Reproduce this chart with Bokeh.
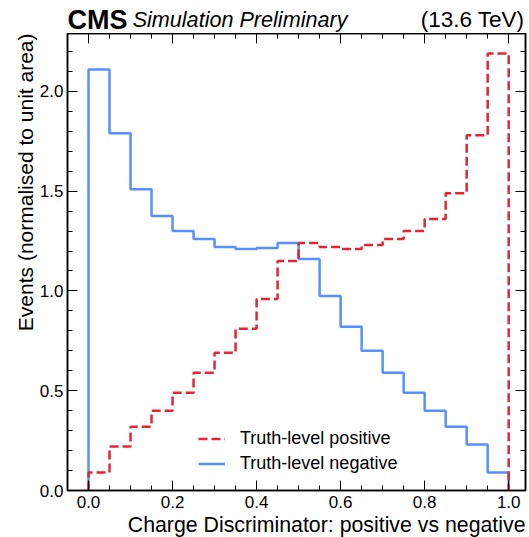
import numpy as np
from bokeh.plotting import figure
from bokeh.layouts import column
from bokeh.models import (Range1d, LinearAxis, FixedTicker, Label, Legend, LegendItem,
                          PrintfTickFormatter, CustomJSTickFormatter, Title)
from bokeh.embed import file_html
from bokeh.resources import INLINE

# ---- data -------------------------------------------------------------
bin_edges = [0.00, 0.05, 0.10, 0.15, 0.20, 0.25, 0.30, 0.35, 0.40, 0.45, 0.50,
             0.55, 0.60, 0.65, 0.70, 0.75, 0.80, 0.85, 0.90, 0.95, 1.00]
truth_positive = [0.09, 0.22, 0.32, 0.40, 0.49, 0.59, 0.69, 0.81, 0.96, 1.15,
                  1.24, 1.22, 1.21, 1.23, 1.26, 1.30, 1.36, 1.49, 1.78, 2.19]
truth_negative = [2.11, 1.79, 1.51, 1.375, 1.30, 1.26, 1.22, 1.21, 1.215, 1.24,
                  1.16, 0.975, 0.82, 0.70, 0.59, 0.49, 0.40, 0.32, 0.23, 0.09]
x_major = [0.0, 0.2, 0.4, 0.6, 0.8, 1.0]
x_minor = [round(0.05 * i, 2) for i in range(0, 21)]
y_major = [0.0, 0.5, 1.0, 1.5, 2.0]
y_minor = [round(0.1 * i, 1) for i in range(0, 23)]

FONT = "Liberation Sans"
W = 529


def step_path(edges, vals):
    xs, ys = [edges[0]], [0.0]
    for i, v in enumerate(vals):
        xs += [edges[i], edges[i + 1]]
        ys += [v, v]
    xs.append(edges[-1])
    ys.append(0.0)
    return xs, ys


xr = Range1d(-0.05, 1.04)

# ---- header strip ------------------------------------------------------
top = figure(width=W, height=33, output_backend="svg", toolbar_location=None, title=None,
             x_range=xr, y_range=Range1d(0, 33), x_axis_type=None, y_axis_type=None,
             min_border_left=67, min_border_right=4, min_border_top=0, min_border_bottom=0)
top.outline_line_color = None
top.xgrid.visible = False
top.ygrid.visible = False
top.add_layout(Label(x=-0.05, y=14, text="CMS", text_font=FONT, text_font_size="27px",
                     text_font_style="bold", text_align="left", text_baseline="alphabetic",
                     text_color="black"))
top.add_layout(Label(x=0.105, y=14, text="Simulation Preliminary", text_font=FONT,
                     text_font_size="21.6px", text_font_style="italic", text_align="left",
                     text_baseline="alphabetic", text_color="black"))
top.add_layout(Label(x=1.0376, y=14, text="(13.6 TeV)", text_font=FONT,
                     text_font_size="22.5px", text_align="right", text_baseline="alphabetic",
                     text_color="black"))

# ---- main plot ---------------------------------------------------------
p = figure(width=W, height=504, output_backend="svg", toolbar_location=None, title=None,
           x_range=xr, y_range=Range1d(0, 2.29),
           min_border_left=67, min_border_right=4, min_border_top=0,
           min_border_bottom=47)
p.xgrid.visible = False
p.ygrid.visible = False
p.outline_line_color = "black"
p.outline_line_width = 1.5

nx, ny = step_path(bin_edges, truth_negative)
px_, py_ = step_path(bin_edges, truth_positive)
r_neg = p.line(nx, ny, line_color="#5790fc", line_width=2.5)
r_pos = p.line(px_, py_, line_color="#e42536", line_width=2.5, line_dash="9 4")


def style_axis(ax, ticks, minors, labels=True):
    ax.ticker = FixedTicker(ticks=ticks, minor_ticks=minors)
    ax.major_tick_in = 10
    ax.major_tick_out = 0
    ax.minor_tick_in = 5
    ax.minor_tick_out = 0
    ax.major_tick_line_color = "black"
    ax.minor_tick_line_color = "black"
    ax.axis_line_color = "black"
    ax.axis_line_width = 1.5
    ax.major_label_text_font = FONT
    ax.major_label_text_color = "black"
    ax.major_label_text_font_size = "17px"
    if labels:
        ax.formatter = PrintfTickFormatter(format="%.1f")
    else:
        ax.formatter = CustomJSTickFormatter(code="return ''")
        ax.major_label_standoff = 0


style_axis(p.xaxis[0], x_major, x_minor)
p.xaxis[0].major_label_standoff = 5
style_axis(p.yaxis[0], y_major, y_minor)
p.yaxis[0].major_label_standoff = 4

top_ax = LinearAxis()
style_axis(top_ax, x_major, x_minor, labels=False)
p.add_layout(top_ax, "above")
right_ax = LinearAxis()
style_axis(right_ax, y_major, y_minor, labels=False)
p.add_layout(right_ax, "right")

p.add_layout(Title(text="Charge Discriminator: positive vs negative", align="right",
                   text_font=FONT, text_font_size="21.3px", text_font_style="normal",
                   text_color="black", standoff=0), "below")
p.add_layout(Title(text="Events (normalised to unit area)", align="right",
                   text_font=FONT, text_font_size="21px", text_font_style="normal",
                   text_color="black", standoff=0), "left")

legend = Legend(items=[LegendItem(label="Truth-level positive", renderers=[r_pos]),
                       LegendItem(label="Truth-level negative", renderers=[r_neg])],
                location=(131, 14), padding=0, margin=0, spacing=0,
                glyph_width=27, glyph_height=25, label_height=25, label_standoff=15,
                label_text_font=FONT, label_text_font_size="18px", label_text_color="black",
                border_line_color=None, background_fill_alpha=0)
p.add_layout(legend, "center")

layout = column(top, p, spacing=0)
open("out.html", "w").write(file_html(layout, INLINE))
